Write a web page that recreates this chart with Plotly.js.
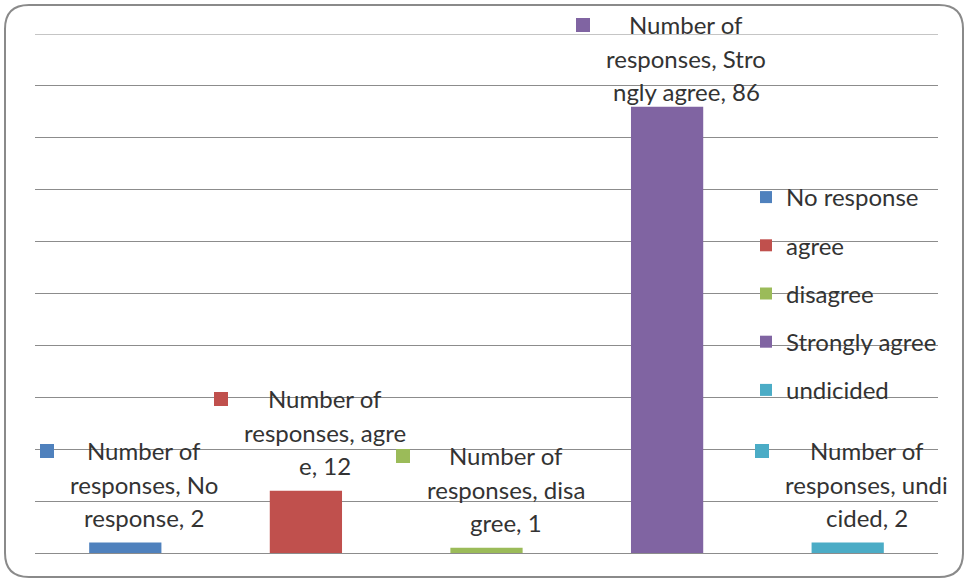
<!DOCTYPE html>
<html><head><meta charset="utf-8">
<script src="https://cdn.plot.ly/plotly-3.0.1.min.js"></script>
<style>html,body{margin:0;padding:0;background:#fff}#chart{width:964px;height:581px}</style>
</head><body><div id="chart"></div>
<script>
// ---- data ----
const categories = ["No response", "agree", "disagree", "Strongly agree", "undicided"];
const values = [2, 12, 1, 86, 2];
const seriesName = "Number of responses";
// data-label text as wrapped by the original chart (value appended from `values`)
const labelLines = [
  ["Number of", "responses, No", "response, "],
  ["Number of", "responses, agre", "e, "],
  ["Number of", "responses, disa", "gree, "],
  ["Number of", "responses, Stro", "ngly agree, "],
  ["Number of", "responses, undi", "cided, "]
];
const colors = ["#4F81BD", "#C0504D", "#9BBB59", "#8064A2", "#4BACC6"];

// ---- layout constants ----
const W = 964, H = 581;
const M = {l: 35, r: 26, t: 34, b: 28, autoexpand: false};
const plotW = W - M.l - M.r, plotH = H - M.t - M.b;
const FONT = "Lato, 'Open Sans', sans-serif";
const FS = 24;
const textColor = "#333333";
const gridColor = "#8c8c8c";
const yMax = 100;
const px2x = p => (p - M.l) / plotW;
const py2y = p => (H - M.b - p) / plotH;

const traces = categories.map((c, i) => ({
  type: "bar", x: [c], y: [values[i]], name: c,
  legendgroup: "g" + i,
  marker: {color: colors[i], line: {width: 0}},
  hoverinfo: "x+y"
}));

// measure text
const ctx = document.createElement("canvas").getContext("2d");
ctx.font = FS + "px Lato";

const annotations = [];
const LINE = 33.5, GAP = 25, XSHIFT = 19;
categories.forEach((c, i) => {
  const lines = labelLines[i].slice();
  lines[2] = lines[2] + values[i];
  const barTopPx = M.t + (1 - values[i] / yMax) * plotH;
  const firstPx = barTopPx - GAP - 2 * LINE;
  const clamp = firstPx < 25 ? 25 - firstPx : 0;
  lines.forEach((t, k) => {
    annotations.push({
      x: c, y: values[i], xref: "x", yref: "y", text: t, showarrow: false,
      xanchor: "center", yanchor: "middle", xshift: XSHIFT,
      yshift: GAP + (2 - k) * LINE - clamp,
      font: {family: FONT, size: FS, color: textColor}
    });
  });
  // legend key of the data label
  const maxW = Math.max(...lines.map(t => ctx.measureText(t).width));
  const keyCx = XSHIFT - maxW / 2 - 16 - 7;
  annotations.push({
    x: c, y: values[i], xref: "x", yref: "y", text: "&nbsp;", showarrow: false,
    xanchor: "center", yanchor: "middle", xshift: keyCx,
    yshift: GAP + 2 * LINE - clamp,
    width: 14, height: 14, borderpad: 0, borderwidth: 0,
    bgcolor: colors[i], font: {size: 2, color: colors[i]}
  });
});

// rounded border of chart area
const bL = 5, bT = 5, bR = 963, bB = 577, rr = 24;
const P = (x, y) => px2x(x).toFixed(5) + "," + py2y(y).toFixed(5);
const shapes = [
  // top gridline (at the maximum of the value axis)
  {type: "line", xref: "paper", yref: "y", x0: 0, x1: 1, y0: yMax, y1: yMax,
   line: {color: gridColor, width: 1}, layer: "below"},
  {
  type: "path", xref: "paper", yref: "paper",
  path: "M" + P(bL + rr, bT) + " L" + P(bR - rr, bT) + " Q" + P(bR, bT) + " " + P(bR, bT + rr) +
        " L" + P(bR, bB - rr) + " Q" + P(bR, bB) + " " + P(bR - rr, bB) +
        " L" + P(bL + rr, bB) + " Q" + P(bL, bB) + " " + P(bL, bB - rr) +
        " L" + P(bL, bT + rr) + " Q" + P(bL, bT) + " " + P(bL + rr, bT) + " Z",
  line: {color: "#8a8a8a", width: 2}, fillcolor: "rgba(0,0,0,0)"
}];

const layout = {
  width: W, height: H,
  margin: M,
  paper_bgcolor: "#ffffff", plot_bgcolor: "#ffffff",
  barmode: "overlay", bargap: 0.6,
  showlegend: true,
  legend: {
    x: px2x(746), xanchor: "left", y: py2y(175), yanchor: "top",
    font: {family: FONT, size: FS, color: textColor},
    bgcolor: "rgba(0,0,0,0)", borderwidth: 0,
    tracegroupgap: 14, traceorder: "grouped"
  },
  xaxis: {
    type: "category", categoryorder: "array", categoryarray: categories,
    range: [-0.5, categories.length - 0.5],
    showticklabels: false, showgrid: false, zeroline: false, showline: false, ticks: "",
    fixedrange: true
  },
  yaxis: {
    range: [0, yMax], tick0: 0, dtick: 10, showticklabels: false,
    showgrid: true, gridcolor: gridColor, gridwidth: 1,
    zeroline: true, zerolinecolor: gridColor, zerolinewidth: 1,
    showline: false, ticks: "", fixedrange: true
  },
  annotations: annotations,
  shapes: shapes,
  font: {family: FONT, color: textColor}
};

Plotly.newPlot("chart", traces, layout, {displayModeBar: false, staticPlot: true});
</script>
</body></html>
